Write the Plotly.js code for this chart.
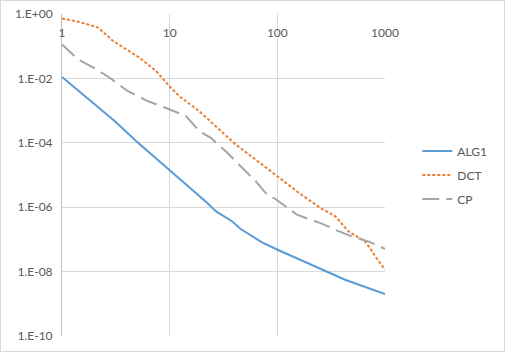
<!DOCTYPE html>
<html><head><meta charset="utf-8">
<script src="https://cdn.plot.ly/plotly-3.0.1.min.js"></script>
<style>
html,body{margin:0;padding:0;background:#fff;}
#wrap{position:absolute;left:0;top:0;width:505px;height:352px;box-sizing:border-box;border:1px solid #d9d9d9;}
#chart{width:503px;height:350px;}
</style></head>
<body><div id="wrap"><div id="chart"></div></div>
<script>
const seriesNames = ["ALG1", "DCT", "CP"];
const algX = [1, 2, 3.1, 4.9, 9.9, 18.8, 22.4, 26.8, 38.2, 45.7, 72, 103, 209, 426, 1000];
const algY = [1.1e-2, 1.55e-3, 4.7e-4, 1.12e-4, 1.48e-5, 2.3e-6, 1.35e-6, 7.5e-7, 3.6e-7, 2.1e-7, 8.1e-8, 4.6e-8, 1.64e-8, 5.6e-9, 2.0e-9];
const dctX = [1, 1.47, 2.16, 2.98, 5.25, 7.5, 9.9, 12.3, 18.8, 41, 83, 100, 158, 259, 344, 457, 650, 724, 834, 1000];
const dctY = [0.72, 0.56, 0.38, 0.145, 0.044, 0.0169, 5.8e-3, 2.8e-3, 9.6e-4, 8.9e-5, 1.48e-5, 9e-6, 2.8e-6, 8.9e-7, 5.3e-7, 1.78e-7, 8.7e-8, 5.4e-8, 2.6e-8, 1.15e-8];
const cpX = [1, 1.41, 2.09, 2.77, 4.09, 6.26, 9.9, 14.2, 18.8, 24.1, 34.3, 47.2, 58.4, 65, 77.6, 96, 119, 152, 182, 259, 344, 490, 698, 1000];
const cpY = [0.114, 0.039, 0.019, 0.0105, 4.0e-3, 1.96e-3, 1.1e-3, 6.8e-4, 2.3e-4, 1.43e-4, 4.9e-5, 1.66e-5, 8.1e-6, 5.7e-6, 2.8e-6, 1.8e-6, 1.07e-6, 5.9e-7, 4.7e-7, 3.1e-7, 2.0e-7, 1.24e-7, 8.7e-8, 5.1e-8];
const xTickVals = [1, 10, 100, 1000];
const xTickText = ["1", "10", "100", "1000"];
const yTickVals = [1, 1e-2, 1e-4, 1e-6, 1e-8, 1e-10];
const yTickText = ["1.E+00", "1.E-02", "1.E-04", "1.E-06", "1.E-08", "1.E-10"];

const font = {family: "Lato, 'Open Sans', sans-serif", size: 12, color: "#595959"};
const traces = [
  {x: algX, y: algY, name: seriesNames[0], legendgroup: "a", mode: "lines", line: {color: "#5b9bd5", width: 2}},
  {x: dctX, y: dctY, name: seriesNames[1], legendgroup: "b", mode: "lines", line: {color: "#ed7d31", width: 2, dash: "3px,2px"}},
  {x: cpX, y: cpY, name: seriesNames[2], legendgroup: "c", mode: "lines", line: {color: "#a5a5a5", width: 2, dash: "17px,7px"}}
];
const layout = {
  width: 503, height: 350,
  margin: {l: 61, r: 117, t: 13, b: 15},
  paper_bgcolor: "#fff", plot_bgcolor: "#fff",
  font: font,
  showlegend: true,
  legend: {x: 1.1, y: 0.5, xanchor: "left", yanchor: "middle", font: font, tracegroupgap: 5, itemwidth: 30},
  xaxis: {type: "log", range: [0, 3], anchor: "free", position: 1, side: "bottom",
          tickvals: xTickVals, ticktext: xTickText, showgrid: true, gridcolor: "#d9d9d9", gridwidth: 1,
          showline: false, zeroline: false, ticks: "", tickfont: font, ticklabelstandoff: 10, fixedrange: true},
  yaxis: {type: "log", range: [-10, 0], domain: [0, 1], tickvals: yTickVals, ticktext: yTickText,
          showgrid: true, gridcolor: "#d9d9d9", gridwidth: 1, showline: true, linecolor: "#bfbfbf", linewidth: 1,
          zeroline: false, ticks: "", tickfont: font, ticklabelstandoff: 6, fixedrange: true},
  hovermode: false
};
Plotly.newPlot("chart", traces, layout, {displayModeBar: false, staticPlot: true});
</script></body></html>
